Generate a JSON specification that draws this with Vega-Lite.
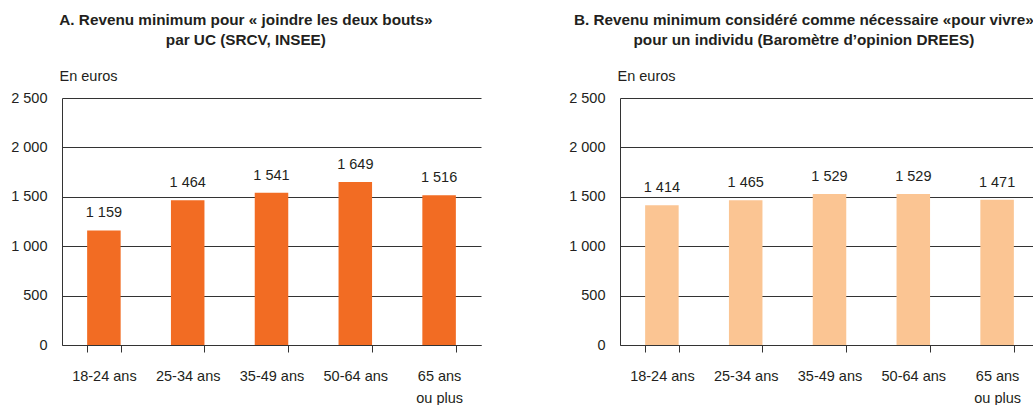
{
  "$schema": "https://vega.github.io/schema/vega-lite/v6.json",
  "padding": {"left": 10, "top": 12, "right": 0, "bottom": 0},
  "datasets": {
    "d": [
      {"panel": "A", "age": "18-24 ans", "value": 1159},
      {"panel": "A", "age": "25-34 ans", "value": 1464},
      {"panel": "A", "age": "35-49 ans", "value": 1541},
      {"panel": "A", "age": "50-64 ans", "value": 1649},
      {"panel": "A", "age": "65 ans ou plus", "value": 1516},
      {"panel": "B", "age": "18-24 ans", "value": 1414},
      {"panel": "B", "age": "25-34 ans", "value": 1465},
      {"panel": "B", "age": "35-49 ans", "value": 1529},
      {"panel": "B", "age": "50-64 ans", "value": 1529},
      {"panel": "B", "age": "65 ans ou plus", "value": 1471}
    ]
  },
  "spacing": 87,
  "hconcat": [
    {
      "width": 419,
      "height": 247,
      "title": {"text": ["A. Revenu minimum pour  « joindre les deux bouts»", "par UC (SRCV, INSEE)"]},
      "data": {"name": "d"},
      "transform": [{"filter": "datum.panel == 'A'"}],
      "encoding": {
        "x": {"field": "age", "type": "nominal", "sort": null, "scale": {"paddingInner": 0.6, "paddingOuter": 0.3}},
        "y": {"field": "value", "type": "quantitative", "scale": {"domain": [0, 2500]}, "title": "En euros", "axis": {"format": ",d"}}
      },
      "layer": [
        {"mark": {"type": "bar", "color": "#F26C23"}},
        {"mark": {"type": "text", "dy": -13, "baseline": "alphabetic"}, "encoding": {"text": {"field": "value", "type": "quantitative", "format": ",d"}}}
      ]
    },
    {
      "width": 419,
      "height": 247,
      "title": {"text": ["B. Revenu minimum considéré comme nécessaire «pour vivre»", "pour un individu (Baromètre d’opinion DREES)"]},
      "data": {"name": "d"},
      "transform": [{"filter": "datum.panel == 'B'"}],
      "encoding": {
        "x": {"field": "age", "type": "nominal", "sort": null, "scale": {"paddingInner": 0.6, "paddingOuter": 0.3}},
        "y": {"field": "value", "type": "quantitative", "scale": {"domain": [0, 2500]}, "title": "En euros", "axis": {"format": ",d"}}
      },
      "layer": [
        {"mark": {"type": "bar", "color": "#FBC593"}},
        {"mark": {"type": "text", "dy": -13, "baseline": "alphabetic"}, "encoding": {"text": {"field": "value", "type": "quantitative", "format": ",d"}}}
      ]
    }
  ],
  "config": {
    "locale": {"number": {"decimal": ",", "thousands": " ", "grouping": [3], "currency": ["", " €"]}},
    "font": "Liberation Sans",
    "view": {"stroke": null},
    "title": {"font": "Liberation Sans", "fontSize": 15.3, "fontWeight": "bold", "color": "#231f20", "anchor": "middle", "frame": "bounds", "lineHeight": 20, "offset": 20},
    "text": {"font": "Liberation Sans", "fontSize": 14.5, "color": "#231f20"},
    "axisY": {
      "values": [0, 500, 1000, 1500, 2000, 2500],
      "grid": true, "gridColor": "#333333", "gridWidth": 1, "gridOpacity": 1,
      "domainColor": "#333333", "domainWidth": 1,
      "ticks": false, "labelPadding": 15,
      "labelFont": "Liberation Sans", "labelFontSize": 14.5, "labelColor": "#231f20",
      "titleFont": "Liberation Sans", "titleFontSize": 14.5, "titleFontWeight": "normal", "titleColor": "#231f20",
      "titleAngle": 0, "titleAlign": "left", "titleBaseline": "alphabetic", "titleX": -3, "titleY": -18
    },
    "axisX": {
      "title": null,
      "labelAngle": 0,
      "tickBand": "extent",
      "domainColor": "#333333", "tickColor": "#333333", "tickSize": 7,
      "labelPadding": 17,
      "labelFont": "Liberation Sans", "labelFontSize": 14.5, "labelColor": "#231f20",
      "labelLineHeight": 22,
      "labelExpr": "datum.label == '65 ans ou plus' ? ['65 ans', 'ou plus'] : datum.label"
    }
  }
}
